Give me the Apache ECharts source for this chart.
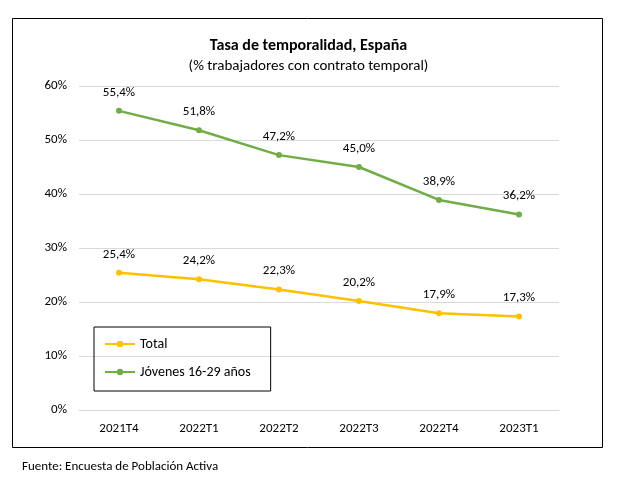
<!DOCTYPE html>
<html><head><meta charset="utf-8">
<script src="https://cdn.jsdelivr.net/npm/echarts@6/dist/echarts.min.js"></script>
<style>body{margin:0}#c{width:617px;height:483px}</style></head>
<body><div id="c"></div>
<script>
const categories=['2021T4','2022T1','2022T2','2022T3','2022T4','2023T1'];
const total=[25.4,24.2,22.3,20.2,17.9,17.3];
const jovenes=[55.4,51.8,47.2,45.0,38.9,36.2];
const F='Calibri, Carlito, "Liberation Sans", sans-serif';
const fmt=p=>p.value.toFixed(1).replace('.',',')+'%';
const chart=echarts.init(document.getElementById('c'));
chart.setOption({
 animation:false,
 textStyle:{fontFamily:F},
 title:{text:'Tasa de temporalidad, España',subtext:'(% trabajadores con contrato temporal)',left:'center',top:33,itemGap:5,
  textStyle:{fontSize:16,fontWeight:'bold',color:'#000',fontFamily:F},subtextStyle:{fontSize:15,color:'#000',fontFamily:F}},
 graphic:[{type:'rect',shape:{x:12.5,y:18.5,width:590,height:429},style:{fill:'none',stroke:'#000',lineWidth:1}},
  {type:'text',left:22,top:460,style:{text:'Fuente: Encuesta de Población Activa',fontSize:13,fill:'#000',fontFamily:F}}],
 grid:{left:79,right:58,top:86,bottom:73},
 xAxis:{type:'category',data:categories,boundaryGap:true,axisTick:{show:false},axisLine:{lineStyle:{color:'#d9d9d9'}},
  axisLabel:{color:'#000',fontSize:13,margin:12}},
 yAxis:{type:'value',min:0,max:60,interval:10,axisLabel:{formatter:'{value}%',color:'#000',fontSize:13,margin:12},
  splitLine:{lineStyle:{color:'#d9d9d9'}}},
 legend:{orient:'vertical',left:94,top:327,padding:[10,20,12,10],itemGap:14,borderColor:'#000',borderWidth:1,
  data:['Total','Jóvenes 16-29 años'],textStyle:{fontSize:14,color:'#000'},itemWidth:30,itemHeight:8},
 series:[
  {name:'Total',type:'line',data:total,color:'#FFC000',symbol:'circle',symbolSize:6,lineStyle:{width:2.5},
   label:{show:true,position:'top',distance:9,formatter:fmt,color:'#000',fontSize:13}},
  {name:'Jóvenes 16-29 años',type:'line',data:jovenes,color:'#70AD47',symbol:'circle',symbolSize:6,lineStyle:{width:2.5},
   label:{show:true,position:'top',distance:9,formatter:fmt,color:'#000',fontSize:13}}
 ]
});
</script></body></html>
